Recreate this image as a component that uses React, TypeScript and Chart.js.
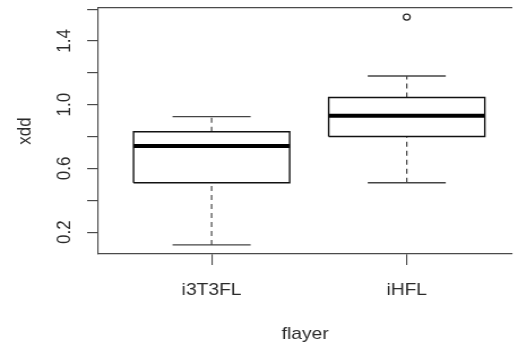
import React, { useEffect, useRef } from "react";
import { Chart, registerables } from "chart.js";

Chart.register(...registerables);

// ---- data ----
const categories = ["i3T3FL", "iHFL"];
const lowerWhisker = [0.12, 0.51];
const q1 = [0.51, 0.8];
const median = [0.74, 0.93];
const q3 = [0.83, 1.045];
const upperWhisker = [0.925, 1.18];
const outliers: number[][] = [[], [1.55]];

const yTicks = [0.2, 0.4, 0.6, 0.8, 1.0, 1.2, 1.4, 1.6];
const yTickLabels = ["0.2", "", "0.6", "", "1.0", "", "1.4", ""];
const xTicks = [1, 2];

const FONT = "'Liberation Sans', Arial, Helvetica, sans-serif";
const AXIS = "#4a4a4a";
const TEXT = "#2a2a2a";

// the reference picture is horizontally stretched (~1.13x); the canvas is
// drawn at a narrower internal width and displayed at 518px
const CANVAS_W = 458;
const CANVAS_H = 347;

export default function App() {
  const ref = useRef<HTMLCanvasElement | null>(null);

  useEffect(() => {
    if (!ref.current) return;
    const boxHalf = 0.4;
    const capHalf = 0.2;
    const datasets: any[] = [];
    categories.forEach((_, i) => {
      const x = i + 1;
      const line = (data: any[], extra: any = {}) => ({
        data,
        showLine: true,
        pointRadius: 0,
        borderColor: "#111111",
        borderWidth: 1.4,
        fill: false,
        ...extra,
      });
      // box
      datasets.push(
        line(
          [
            { x: x - boxHalf, y: q1[i] },
            { x: x + boxHalf, y: q1[i] },
            { x: x + boxHalf, y: q3[i] },
            { x: x - boxHalf, y: q3[i] },
            { x: x - boxHalf, y: q1[i] },
          ],
          { borderJoinStyle: "miter" }
        )
      );
      // median
      datasets.push(
        line(
          [
            { x: x - boxHalf, y: median[i] },
            { x: x + boxHalf, y: median[i] },
          ],
          { borderWidth: 4, borderColor: "#000000" }
        )
      );
      // whiskers (dashed)
      datasets.push(
        line(
          [
            { x, y: q3[i] },
            { x, y: upperWhisker[i] },
          ],
          { borderDash: [5, 4], borderColor: "#444444", borderWidth: 1.2 }
        )
      );
      datasets.push(
        line(
          [
            { x, y: lowerWhisker[i] },
            { x, y: q1[i] },
          ],
          { borderDash: [5, 4], borderColor: "#444444", borderWidth: 1.2 }
        )
      );
      // caps
      datasets.push(
        line(
          [
            { x: x - capHalf, y: upperWhisker[i] },
            { x: x + capHalf, y: upperWhisker[i] },
          ],
          { borderColor: "#444444", borderWidth: 1.3 }
        )
      );
      datasets.push(
        line(
          [
            { x: x - capHalf, y: lowerWhisker[i] },
            { x: x + capHalf, y: lowerWhisker[i] },
          ],
          { borderColor: "#444444", borderWidth: 1.3 }
        )
      );
      // outliers
      if (outliers[i].length) {
        datasets.push({
          data: outliers[i].map((v) => ({ x, y: v })),
          showLine: false,
          pointRadius: 3,
          pointStyle: "circle",
          pointBackgroundColor: "#ffffff",
          pointBorderColor: "#222222",
          pointBorderWidth: 1.2,
        });
      }
    });

    const chart = new Chart(ref.current, {
      type: "scatter",
      data: { datasets },
      options: {
        animation: false,
        responsive: false,
        devicePixelRatio: 1,
        layout: { padding: 0 },
        plugins: {
          legend: { display: false },
          tooltip: { enabled: false },
        },
        scales: {
          x: {
            type: "linear",
            position: "bottom",
            min: 0.42,
            max: 2.54,
            afterBuildTicks: (axis: any) => {
              axis.ticks = xTicks.map((v) => ({ value: v }));
            },
            afterFit: (scale: any) => {
              scale.height = 93;
              scale.paddingLeft = 0;
              scale.paddingRight = 0;
            },
            ticks: {
              color: TEXT,
              font: { family: FONT, size: 17 },
              padding: 15,
              maxRotation: 0,
              callback: (v: any) => categories[Number(v) - 1] ?? "",
            },
            grid: {
              display: true,
              drawOnChartArea: false,
              drawTicks: true,
              tickLength: 11,
              color: AXIS,
              lineWidth: 1.1,
            },
            border: { display: true, color: AXIS, width: 1.2 },
            title: {
              display: true,
              text: "flayer",
              color: TEXT,
              font: { family: FONT, size: 17 },
              padding: { top: 0, bottom: 2 },
            },
          },
          xTop: {
            type: "linear",
            position: "top",
            min: 0.42,
            max: 2.54,
            afterFit: (scale: any) => {
              scale.height = 8;
              scale.paddingLeft = 0;
              scale.paddingRight = 0;
            },
            ticks: { display: false },
            grid: { display: false },
            border: { display: true, color: AXIS, width: 1.2 },
          },
          y: {
            type: "linear",
            position: "left",
            min: 0.0628,
            max: 1.607,
            afterBuildTicks: (axis: any) => {
              axis.ticks = yTicks.map((v) => ({ value: v }));
            },
            afterFit: (scale: any) => {
              scale.width = 87;
              scale.paddingTop = 0;
              scale.paddingBottom = 0;
            },
            ticks: {
              color: TEXT,
              font: { family: FONT, size: 17 },
              minRotation: 90,
              maxRotation: 90,
              crossAlign: "center",
              padding: 8,
              callback: (v: any, idx: number) => yTickLabels[idx] ?? "",
            },
            grid: {
              display: true,
              drawOnChartArea: false,
              drawTicks: true,
              tickLength: 10,
              color: AXIS,
              lineWidth: 1.2,
            },
            border: { display: true, color: AXIS, width: 1.1 },
            title: {
              display: true,
              text: "xdd",
              color: TEXT,
              font: { family: FONT, size: 17 },
              padding: { top: 12, bottom: 0 },
            },
          },
        },
      } as any,
    });
    return () => chart.destroy();
  }, []);

  return (
    <div
      style={{
        position: "fixed",
        left: 0,
        top: 0,
        width: 518,
        height: 347,
        overflow: "hidden",
        background: "#ffffff",
      }}
    >
      <canvas
        ref={ref}
        width={CANVAS_W}
        height={CANVAS_H}
        style={{ width: "518px", height: "347px", display: "block" }}
      />
    </div>
  );
}
